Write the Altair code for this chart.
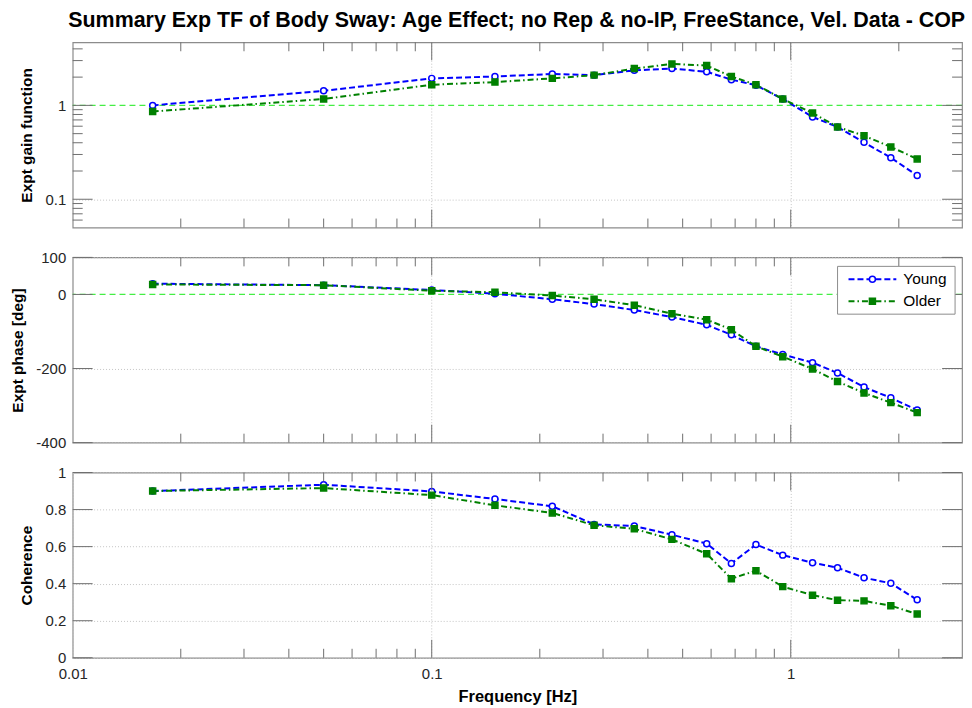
import altair as alt
import pandas as pd

# ---------------- data ----------------
freq = [0.0167, 0.05, 0.1, 0.15, 0.2167, 0.2833, 0.3667, 0.4667, 0.5833,
        0.6833, 0.8, 0.95, 1.15, 1.35, 1.6, 1.9, 2.25]
gain_young = [1.00, 1.43, 1.94, 2.03, 2.16, 2.10, 2.36, 2.47, 2.28,
              1.88, 1.64, 1.17, 0.753, 0.589, 0.404, 0.277, 0.179]
gain_older = [0.86, 1.17, 1.66, 1.77, 1.94, 2.10, 2.47, 2.76, 2.66,
              2.03, 1.66, 1.17, 0.83, 0.589, 0.475, 0.361, 0.269]
phase_young = [29, 25, 12, 2, -13, -26, -42, -61, -82,
               -109, -140, -162, -184, -212, -250, -279, -312]
phase_older = [27, 25, 10, 6, -3, -13, -29, -52, -68,
               -95, -140, -168, -201, -235, -266, -292, -319]
coh_young = [0.90, 0.934, 0.898, 0.857, 0.818, 0.72, 0.711, 0.664, 0.616,
             0.509, 0.611, 0.554, 0.513, 0.486, 0.432, 0.402, 0.313]
coh_older = [0.90, 0.916, 0.878, 0.823, 0.782, 0.715, 0.696, 0.639, 0.561,
             0.427, 0.470, 0.384, 0.338, 0.311, 0.307, 0.281, 0.236]
groups = ["Young", "Older"]

x_major = [0.1, 1]
x_minor = [0.02, 0.03, 0.04, 0.05, 0.06, 0.07, 0.08, 0.09,
           0.2, 0.3, 0.4, 0.5, 0.6, 0.7, 0.8, 0.9, 2]
x_labels = [0.01, 0.1, 1]
gain_major = [0.1, 1]
gain_minor = [0.06, 0.07, 0.08, 0.09, 0.2, 0.3, 0.4, 0.5, 0.6, 0.7, 0.8, 0.9, 2, 3, 4]
phase_major = [-400, -200, 0, 100]
coh_major = [0, 0.2, 0.4, 0.6, 0.8, 1]

title_text = "Summary Exp TF of Body Sway: Age Effect; no Rep & no-IP, FreeStance, Vel. Data - COP"

# ---------------- style ----------------
W, H = 893, 186
FONT = "Liberation Sans"
TICK = "#6e6e6e"
BLUE = "#0000ff"
GREEN = "#008000"
REF = "#44ee44"
DASH_Y = [6, 3]
DASH_O = [6, 3, 1.5, 3]

xscale = alt.Scale(type="log", domain=[0.01, 3], nice=False)
color_scale = alt.Scale(domain=groups, range=[BLUE, GREEN])
fill_scale = alt.Scale(domain=groups, range=["white", GREEN])
dash_scale = alt.Scale(domain=groups, range=[DASH_Y, DASH_O])
shape_scale = alt.Scale(domain=groups, range=["circle", "square"])


def long_df(young, older):
    return pd.DataFrame({
        "freq": freq * 2,
        "value": list(young) + list(older),
        "group": ["Young"] * len(freq) + ["Older"] * len(freq),
    })


def xticks(vals, length, xaxis):
    d = pd.DataFrame({"freq": vals})
    top = alt.Chart(d).mark_rule(color=TICK, strokeWidth=1).encode(
        x=alt.X("freq:Q", scale=xscale, axis=xaxis),
        y=alt.value(0), y2=alt.value(length))
    bot = alt.Chart(d).mark_rule(color=TICK, strokeWidth=1).encode(
        x=alt.X("freq:Q", scale=xscale, axis=xaxis),
        y=alt.value(H), y2=alt.value(H - length))
    return [top, bot]


def yticks(vals, length, yscale, yaxis):
    d = pd.DataFrame({"value": vals})
    left = alt.Chart(d).mark_rule(color=TICK, strokeWidth=1).encode(
        y=alt.Y("value:Q", scale=yscale, axis=yaxis),
        x=alt.value(0), x2=alt.value(length))
    right = alt.Chart(d).mark_rule(color=TICK, strokeWidth=1).encode(
        y=alt.Y("value:Q", scale=yscale, axis=yaxis),
        x=alt.value(W), x2=alt.value(W - length))
    return [left, right]


def legend_row(name, ypix, color, dash, fill, shape):
    d = pd.DataFrame({"label": [name]})
    line = alt.Chart(d).mark_rule(color=color, strokeWidth=2, strokeDash=dash).encode(
        x=alt.value(779), x2=alt.value(827), y=alt.value(ypix))
    pt = alt.Chart(d).mark_point(shape=shape, size=36, stroke=color, fill=fill,
                                 fillOpacity=1, strokeWidth=1.5, opacity=1).encode(
        x=alt.value(803), y=alt.value(ypix))
    txt = alt.Chart(d).mark_text(align="left", baseline="middle", font=FONT,
                                 fontSize=15.5, color="#000000").encode(
        x=alt.value(834), y=alt.value(ypix), text="label:N")
    return [line, pt, txt]


def panel(young, older, yscale, yaxis, major_y, minor_y=None, ref=None,
          bottom=False, legend=False):
    df = long_df(young, older)
    if bottom:
        xaxis = alt.Axis(values=x_labels, format="~g", title="Frequency [Hz]",
                         ticks=False, domain=False, grid=True, labelPadding=9,
                         titlePadding=7, labelFlush=False)
    else:
        xaxis = alt.Axis(values=x_major, labels=False, ticks=False, domain=False,
                         grid=True, title=None)
    base = alt.Chart(df)
    lines = base.mark_line(strokeWidth=2).encode(
        x=alt.X("freq:Q", scale=xscale, axis=xaxis),
        y=alt.Y("value:Q", scale=yscale, axis=yaxis),
        color=alt.Color("group:N", scale=color_scale, legend=None),
        strokeDash=alt.StrokeDash("group:N", scale=dash_scale, legend=None),
        detail="group:N",
    )
    pts = base.mark_point(size=36, strokeWidth=1.5, opacity=1, fillOpacity=1).encode(
        x=alt.X("freq:Q", scale=xscale, axis=xaxis),
        y=alt.Y("value:Q", scale=yscale, axis=yaxis),
        stroke=alt.Stroke("group:N", scale=color_scale, legend=None),
        fill=alt.Fill("group:N", scale=fill_scale, legend=None),
        shape=alt.Shape("group:N", scale=shape_scale, legend=None),
    )
    layers = []
    if ref is not None:
        layers.append(alt.Chart(pd.DataFrame({"value": [ref]})).mark_rule(
            color=REF, strokeWidth=1.3, strokeDash=[6, 4]).encode(
            y=alt.Y("value:Q", scale=yscale, axis=yaxis)))
    layers += [lines, pts]
    layers += xticks(x_major, 18, xaxis) + xticks(x_minor, 9, xaxis)
    layers += yticks(major_y, 20, yscale, yaxis)
    if minor_y:
        layers += yticks(minor_y, 10, yscale, yaxis)
    if legend:
        d = pd.DataFrame({"label": ["box"]})
        layers.append(alt.Chart(d).mark_rect(fill="white", stroke="#8c8c8c",
                                             strokeWidth=1).encode(
            x=alt.value(768), x2=alt.value(886), y=alt.value(9), y2=alt.value(57)))
        layers += legend_row("Young", 22, BLUE, DASH_Y, "white", "circle")
        layers += legend_row("Older", 44, GREEN, DASH_O, GREEN, "square")
    return alt.layer(*layers).properties(width=W, height=H)


common_y = dict(ticks=False, domain=False, grid=True, labelPadding=7,
                titleFontWeight="bold", titleFontSize=15.5, titleBaseline="middle",
                titleAngle=-90, labelExpr="toString(datum.value)")

gain = panel(
    gain_young, gain_older,
    alt.Scale(type="log", domain=[0.05, 4.7], nice=False),
    alt.Axis(values=gain_major, title="Expt gain function", titleX=-46,
             gridOpacity=alt.condition("datum.value == 1", alt.value(0), alt.value(1)),
             **common_y),
    gain_major, gain_minor, ref=1)

phase = panel(
    phase_young, phase_older,
    alt.Scale(domain=[-400, 100], nice=False, zero=False),
    alt.Axis(values=phase_major, title="Expt phase [deg]", titleX=-55,
             gridOpacity=alt.condition("datum.value == 0", alt.value(0), alt.value(1)),
             **common_y),
    phase_major, None, ref=0, legend=True)

coh = panel(
    coh_young, coh_older,
    alt.Scale(domain=[0, 1], nice=False),
    alt.Axis(values=coh_major, title="Coherence", titleX=-46, **common_y),
    coh_major, None, bottom=True)

chart = alt.vconcat(gain, phase, coh, spacing=30, bounds="flush").properties(
    title=alt.TitleParams(text=title_text, font=FONT, fontSize=21.5,
                          fontWeight="bold", anchor="middle", color="#000000",
                          offset=10, dx=30),
    padding={"left": 10, "top": 8, "right": 6, "bottom": 2},
).configure_view(
    stroke="#8c8c8c", strokeWidth=1.2
).configure_axis(
    labelFont=FONT, labelFontSize=15, labelColor="#262626",
    titleFont=FONT, titleColor="#000000", titleFontWeight="bold",
    gridColor="#c4c4c4", gridDash=[1, 2], gridWidth=1,
).configure_axisX(titleFontSize=16.5)

chart.save("out.html", embed_options={"renderer": "svg", "actions": False})
